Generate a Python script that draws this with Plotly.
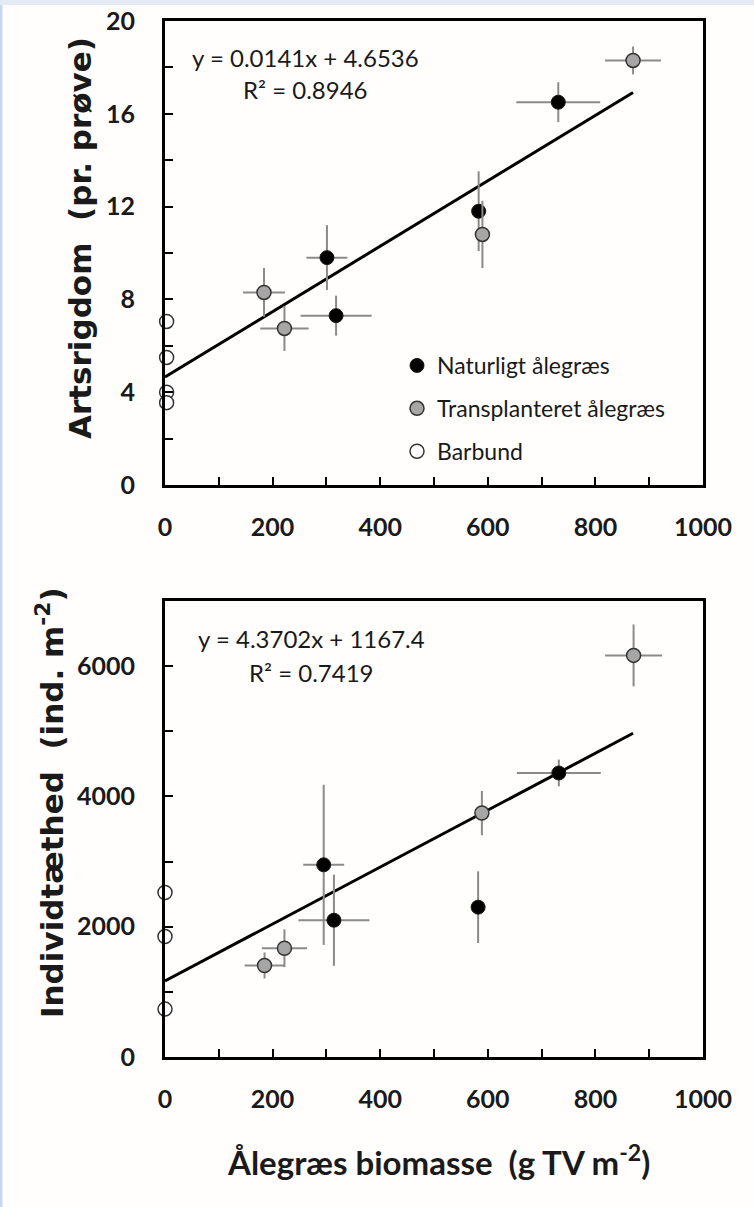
import plotly.graph_objects as go

# ---------------- data ----------------
# Top panel: species richness vs eelgrass biomass
nat_x = [301, 318, 583, 731]
nat_xerr = [38, 66, 0, 78]
nat_rich = [9.8, 7.3, 11.8, 16.5]
nat_rich_err = [1.4, 0.86, 1.72, 0.86]

tra_x = [184, 222, 590, 870]
tra_xerr = [39, 45, 0, 52]
tra_rich = [8.3, 6.75, 10.8, 18.3]
tra_rich_err = [1.05, 0.97, 1.45, 0.6]

bar_x_top = [3, 3, 3, 3]
bar_rich = [7.05, 5.5, 4.0, 3.55]

# Bottom panel: density vs eelgrass biomass
nat_x2 = [295, 314, 582, 732]
nat_x2err = [38, 66, 0, 78]
nat_dens = [2950, 2100, 2300, 4360]
nat_dens_err = [1230, 700, 550, 205]

tra_x2 = [185, 222, 589, 871]
tra_x2err = [37, 42, 0, 53]
tra_dens = [1405, 1670, 3745, 6165]
tra_dens_err = [200, 290, 340, 475]

bar_x_bot = [0, 0, 0]
bar_dens = [2525, 1850, 735]

# Regression lines (from equations shown)
fit_x = [0, 870]
slope1, icpt1 = 0.0141, 4.6536
slope2, icpt2 = 4.3702, 1167.4
eq1 = ["y = 0.0141x + 4.6536", "R² = 0.8946"]
eq2 = ["y = 4.3702x + 1167.4", "R² = 0.7419"]

legend_names = ["Naturligt ålegræs", "Transplanteret ålegræs", "Barbund"]
ytitle1 = "Artsrigdom  (pr. prøve)"
ytitle2 = "Individtæthed  (ind. m<sup>-2</sup>)"
xtitle = "Ålegræs biomasse  (g TV m<sup>-2</sup>)"

# ---------------- figure ----------------
W, H = 754, 1207
FONT = "Lato, 'Open Sans', sans-serif"
TFONT = "'DejaVu Sans', Lato, sans-serif"
ERR_C = "#8a8a8a"
fig = go.Figure()

def err(arr):
    return dict(type="data", array=arr, visible=True, color=ERR_C, thickness=2, width=0)

styles = [
    dict(color="#000000", line=dict(color="#1a1a1a", width=1)),
    dict(color="#a6a6a6", line=dict(color="#333333", width=1.5)),
    dict(color="#ffffff", line=dict(color="#333333", width=1.5)),
]

# regression lines
fig.add_trace(go.Scatter(x=fit_x, y=[icpt1 + slope1 * v for v in fit_x], mode="lines",
                         line=dict(color="black", width=3), showlegend=False,
                         xaxis="x", yaxis="y"))
fig.add_trace(go.Scatter(x=fit_x, y=[icpt2 + slope2 * v for v in fit_x], mode="lines",
                         line=dict(color="black", width=3), showlegend=False,
                         xaxis="x2", yaxis="y2"))

# top panel points
fig.add_trace(go.Scatter(x=nat_x, y=nat_rich, mode="markers", name=legend_names[0],
                         error_x=err(nat_xerr), error_y=err(nat_rich_err),
                         marker=dict(size=14, **styles[0]), legendgroup="a",
                         xaxis="x", yaxis="y", cliponaxis=False))
fig.add_trace(go.Scatter(x=tra_x, y=tra_rich, mode="markers", name=legend_names[1],
                         error_x=err(tra_xerr), error_y=err(tra_rich_err),
                         marker=dict(size=14, **styles[1]), legendgroup="b",
                         xaxis="x", yaxis="y", cliponaxis=False))
fig.add_trace(go.Scatter(x=bar_x_top, y=bar_rich, mode="markers", name=legend_names[2],
                         marker=dict(size=14, **styles[2]), legendgroup="c",
                         xaxis="x", yaxis="y", cliponaxis=False))

# bottom panel points
fig.add_trace(go.Scatter(x=nat_x2, y=nat_dens, mode="markers", showlegend=False,
                         error_x=err(nat_x2err), error_y=err(nat_dens_err),
                         marker=dict(size=14, **styles[0]),
                         xaxis="x2", yaxis="y2", cliponaxis=False))
fig.add_trace(go.Scatter(x=tra_x2, y=tra_dens, mode="markers", showlegend=False,
                         error_x=err(tra_x2err), error_y=err(tra_dens_err),
                         marker=dict(size=14, **styles[1]),
                         xaxis="x2", yaxis="y2", cliponaxis=False))
fig.add_trace(go.Scatter(x=bar_x_bot, y=bar_dens, mode="markers", showlegend=False,
                         marker=dict(size=14, **styles[2]),
                         xaxis="x2", yaxis="y2", cliponaxis=False))

def px_x(p):
    return p / W

def px_y(p):
    return 1 - p / H

xdom = [px_x(165), px_x(703)]
tickfont = dict(family=FONT, size=25, color="#1a1a1a", weight="bold")

axis_common = dict(showline=True, linecolor="black", linewidth=3, mirror=True,
                   ticks="inside", ticklen=8, tickwidth=1.5, tickcolor="black",
                   showgrid=False, zeroline=False, tickfont=tickfont, automargin=False)
minor_common = dict(ticks="inside", ticklen=8, tickwidth=1.5, tickcolor="black")

fig.update_layout(
    width=W, height=H, autosize=False,
    margin=dict(l=0, r=0, t=0, b=0, pad=0),
    paper_bgcolor="#fffefc", plot_bgcolor="#fffefc",
    xaxis=dict(domain=xdom, anchor="y", range=[0, 1000], dtick=200, ticklabelstandoff=18,
               minor=dict(dtick=100, **minor_common), **axis_common),
    yaxis=dict(domain=[px_y(485), px_y(21)], anchor="x", range=[0, 20], dtick=4,
               ticklabelstandoff=22, minor=dict(dtick=2, **minor_common), **axis_common),
    xaxis2=dict(domain=xdom, anchor="y2", range=[0, 1000], dtick=200, ticklabelstandoff=18,
                minor=dict(dtick=100, **minor_common), **axis_common),
    yaxis2=dict(domain=[px_y(1057), px_y(601)], anchor="x2", range=[0, 7000], dtick=2000,
                ticklabelstandoff=22, minor=dict(dtick=1000, **minor_common), **axis_common),
    showlegend=True,
    legend=dict(x=px_x(397), y=px_y(344), xanchor="left", yanchor="top",
                bgcolor="rgba(0,0,0,0)", font=dict(family=FONT, size=23, color="#1a1a1a"),
                traceorder="grouped", tracegroupgap=10, itemwidth=30),
)

annos = []
def add_text(x, y, text, size=24, weight="normal", angle=0, family=FONT):
    annos.append(dict(x=px_x(x), y=px_y(y), xref="paper", yref="paper", text=text,
                      showarrow=False, textangle=angle, xanchor="center", yanchor="middle",
                      font=dict(family=family, size=size, color="#1a1a1a", weight=weight)))

add_text(305, 57, eq1[0])
add_text(305, 90, eq1[1])
add_text(311, 638, eq2[0])
add_text(311, 672, eq2[1])
add_text(80, 238, ytitle1, size=31, weight="bold", angle=-90, family=TFONT)
add_text(50, 803, ytitle2, size=31, weight="bold", angle=-90, family=TFONT)
add_text(438, 1160, xtitle, size=33, weight="bold")
fig.update_layout(annotations=annos)

# page border strips
fig.update_layout(shapes=[
    dict(type="rect", xref="paper", yref="paper", x0=0, x1=1, y0=px_y(5), y1=1,
         fillcolor="#e4e9f6", line=dict(width=0), layer="below"),
    dict(type="rect", xref="paper", yref="paper", x0=0, x1=px_x(2.5), y0=0, y1=px_y(5),
         fillcolor="#c9d6ef", line=dict(width=0), layer="below"),
])

post = (
    "document.documentElement.style.margin='0';"
    "document.body.style.margin='0';document.body.style.padding='0';"
    "document.body.style.overflow='hidden';"
    "var gd=document.getElementById('{plot_id}');"
    "gd.style.width='754px';gd.style.height='1207px';"
    "Plotly.relayout(gd,{width:754,height:1207,autosize:false});"
)

fig.write_html("out.html", config={"responsive": False}, post_script=post)
